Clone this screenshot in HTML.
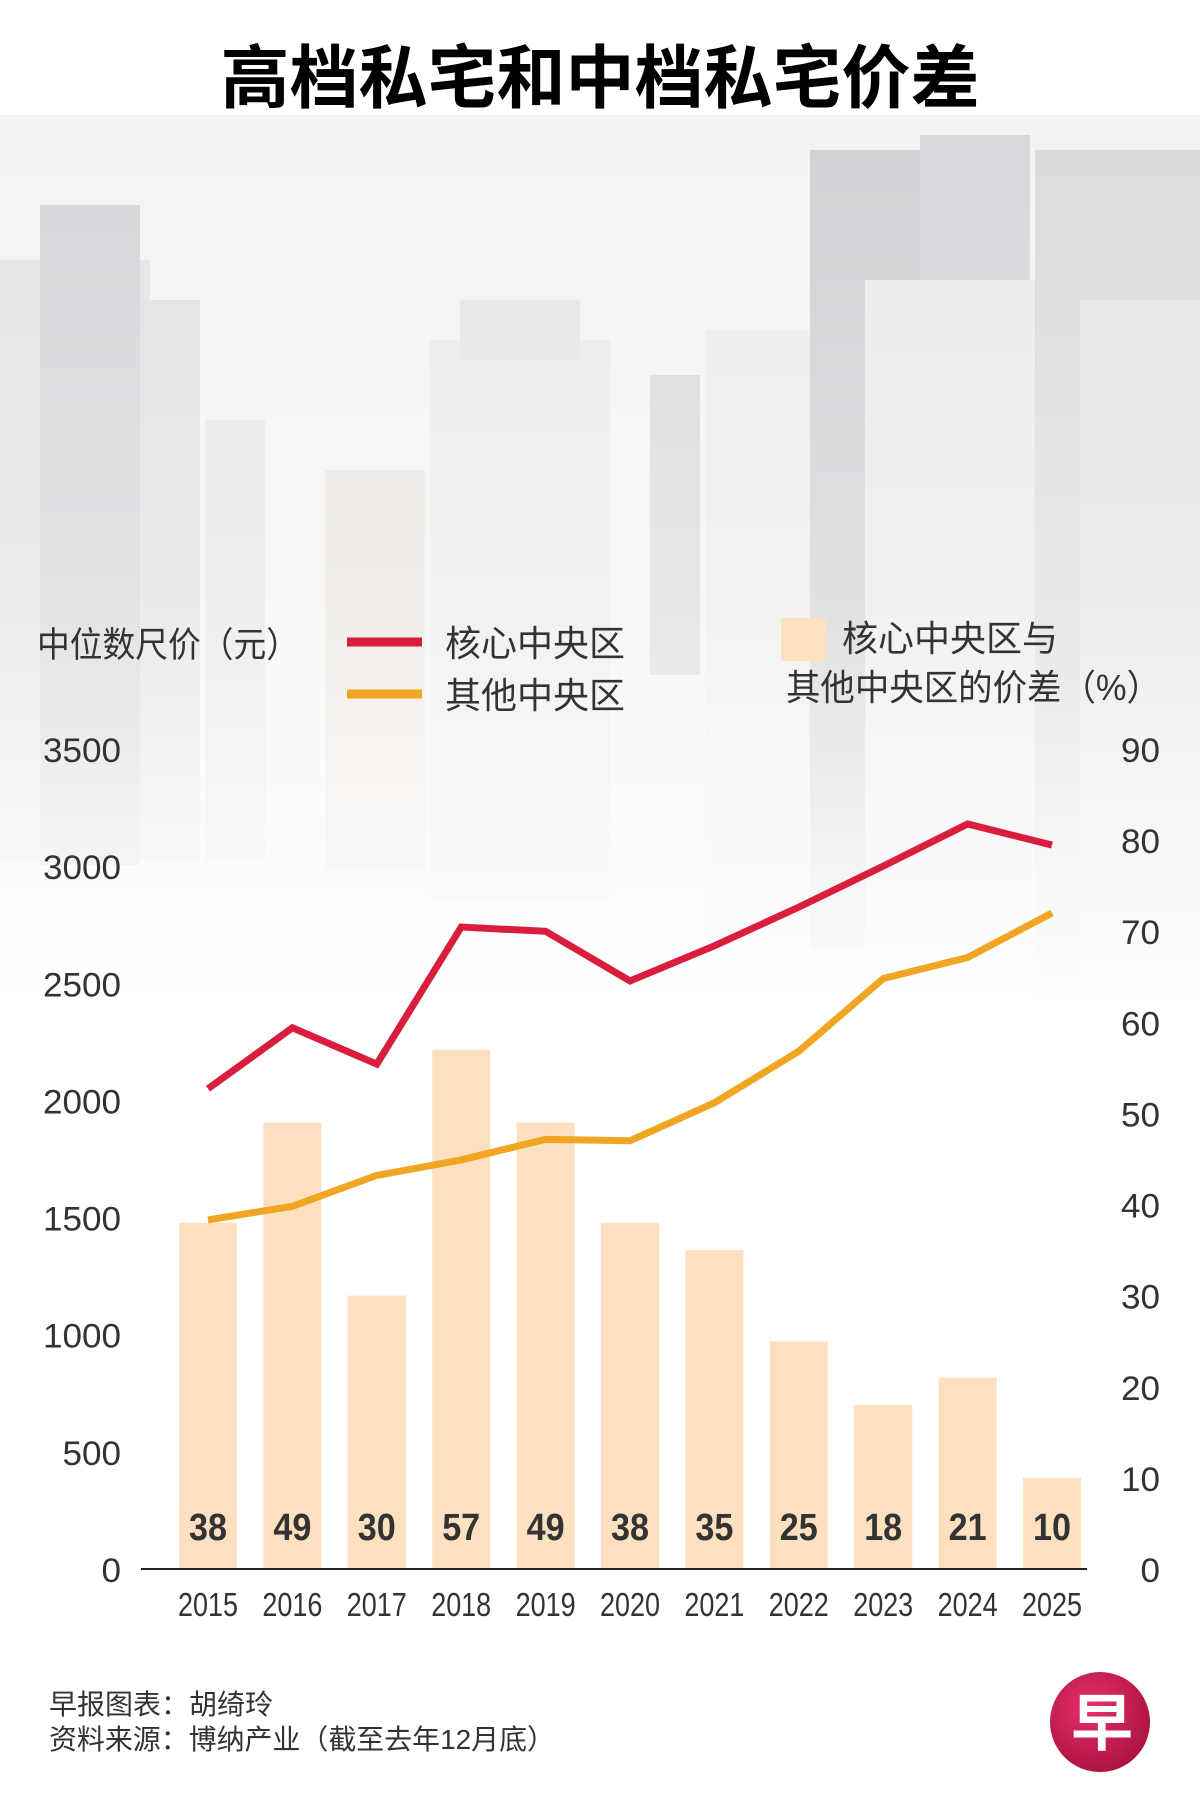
<!DOCTYPE html>
<html><head><meta charset="utf-8">
<style>
html,body{margin:0;padding:0;background:#fff;}
svg{display:block;}
text{font-family:"Liberation Sans","Noto Sans CJK SC",sans-serif;}
.tick{font-family:"Liberation Sans Narrow","Liberation Sans","Noto Sans CJK SC",sans-serif;font-size:34px;fill:#333;}
</style></head>
<body>
<svg id="chart" width="1200" height="1813" viewBox="0 0 1200 1813">
<defs>
<linearGradient id="fade" x1="0" y1="0" x2="0" y2="1">
<stop offset="0" stop-color="#fff" stop-opacity="0"/>
<stop offset="0.55" stop-color="#fff" stop-opacity="0.35"/>
<stop offset="1" stop-color="#fff" stop-opacity="1"/>
</linearGradient>
<radialGradient id="logo" cx="0.4" cy="0.35" r="0.7">
<stop offset="0" stop-color="#e8306a"/><stop offset="1" stop-color="#a8123e"/>
</radialGradient>
</defs>
<g>
<rect x="0" y="115" width="1200" height="900" fill="#f3f3f3"/>
<rect x="0" y="260" width="150" height="600" fill="#e2e3e5"/>
<rect x="40" y="205" width="100" height="660" fill="#d3d5d8"/>
<rect x="140" y="300" width="60" height="560" fill="#e0e1e3"/>
<rect x="205" y="420" width="60" height="440" fill="#e6e6e6"/>
<rect x="325" y="470" width="100" height="400" fill="#ebe4dd"/>
<rect x="430" y="340" width="180" height="560" fill="#ebebeb"/>
<rect x="460" y="300" width="120" height="60" fill="#e6e6e6"/>
<rect x="650" y="375" width="50" height="300" fill="#d8dadc"/>
<rect x="705" y="330" width="160" height="620" fill="#ececec"/>
<rect x="810" y="150" width="110" height="800" fill="#cfd1d4"/>
<rect x="920" y="135" width="110" height="180" fill="#d6d8db"/>
<rect x="865" y="280" width="210" height="700" fill="#e9eaea"/>
<rect x="1035" y="150" width="165" height="850" fill="#d9dbdd"/>
<rect x="1080" y="300" width="120" height="700" fill="#e3e4e5"/>
<rect x="0" y="115" width="1200" height="900" fill="url(#fade)"/>
</g>
<text x="600" y="102" text-anchor="middle" font-size="69" font-weight="bold" fill="#000">高档私宅和中档私宅价差</text>
<text x="37" y="657" font-size="35" fill="#333" textLength="262" lengthAdjust="spacingAndGlyphs">中位数尺价（元）</text>
<g>
<line x1="347" y1="642" x2="422" y2="642" stroke="#d81e3c" stroke-width="9"/>
<text x="445" y="656" font-size="36" fill="#333">核心中央区</text>
<line x1="347" y1="694" x2="422" y2="694" stroke="#f0a623" stroke-width="9"/>
<text x="445" y="708" font-size="36" fill="#333">其他中央区</text>
<rect x="781" y="618" width="45" height="43" fill="#fde0c0"/>
<text x="842" y="651" font-size="36" fill="#333">核心中央区与</text>
<text x="786" y="700" font-size="36" fill="#333" textLength="375" lengthAdjust="spacingAndGlyphs">其他中央区的价差（%）</text>
</g>
<g id="plot"></g>
<text x="49" y="1714" font-size="28" fill="#333">早报图表：胡绮玲</text>
<text x="49" y="1749" font-size="28" fill="#333" textLength="506" lengthAdjust="spacingAndGlyphs">资料来源：博纳产业（截至去年12月底）</text>
<g>
<circle cx="1100" cy="1722" r="50" fill="url(#logo)"/>
<text x="1102" y="1745" text-anchor="middle" font-size="62" font-weight="bold" fill="#fff">早</text>
</g>
</svg>
<script>
const years = ["2015","2016","2017","2018","2019","2020","2021","2022","2023","2024","2025"];
const gapPct = [38,49,30,57,49,38,35,25,18,21,10];
const coreCentral = [2050,2310,2155,2740,2722,2510,2660,2825,3000,3180,3090];
const restCentral = [1490,1548,1680,1746,1834,1828,1990,2210,2520,2610,2800];
const leftTicks = [0,500,1000,1500,2000,2500,3000,3500];
const rightTicks = [0,10,20,30,40,50,60,70,80,90];

const NS = "http://www.w3.org/2000/svg";
const plot = document.getElementById("plot");
const y0 = 1569, yTop = 749;
const yL = v => y0 - v / 3500 * (y0 - yTop);
const yR = v => y0 - v / 90 * (y0 - yTop);
const xC = i => 208 + i * 84.4;
function mk(tag, attrs){const e=document.createElementNS(NS,tag);for(const k in attrs)e.setAttribute(k,attrs[k]);plot.appendChild(e);return e;}
function narrow(t, perChar){t.setAttribute("textLength", String(t.textContent).length*perChar);t.setAttribute("lengthAdjust","spacingAndGlyphs");}

gapPct.forEach((v,i)=>{
  const r = mk("rect",{x:xC(i)-29,y:yR(v),width:58,height:y0-yR(v),fill:"#fde0c0"});
  
  
});
const axis = mk("line",{x1:141,y1:y0,x2:1087,y2:y0,stroke:"#222","stroke-width":2});



function line(vals,color,name){
  const p = mk("polyline",{points:vals.map((v,i)=>xC(i)+","+yL(v)).join(" "),fill:"none",stroke:color,"stroke-width":7,"stroke-linejoin":"miter"});
  
  
}
line(restCentral,"#f0a623","rest-central-line");
line(coreCentral,"#d81e3c","core-central-line");

gapPct.forEach((v,i)=>{
  const t = mk("text",{x:xC(i),y:1540,"text-anchor":"middle",fill:"#333",class:"tick"});
  t.style.fontWeight="bold";
  t.style.fontSize="38px";
  t.textContent = v;
  narrow(t, 19);
  
  
});
years.forEach((y,i)=>{
  const t = mk("text",{x:xC(i),y:1616,"text-anchor":"middle",class:"tick"});
  t.style.fontSize="33px";
  t.textContent = y;
  narrow(t, 15);
  
  
});
leftTicks.forEach(v=>{
  const t = mk("text",{x:121,y:yL(v)+13,"text-anchor":"end",class:"tick"});
  t.textContent = v;
  narrow(t, 19.5);
  
  
});
rightTicks.forEach(v=>{
  const t = mk("text",{x:1160,y:yR(v)+13,"text-anchor":"end",class:"tick"});
  t.textContent = v;
  narrow(t, 19.5);
  
  
});
</script>
</body></html>
